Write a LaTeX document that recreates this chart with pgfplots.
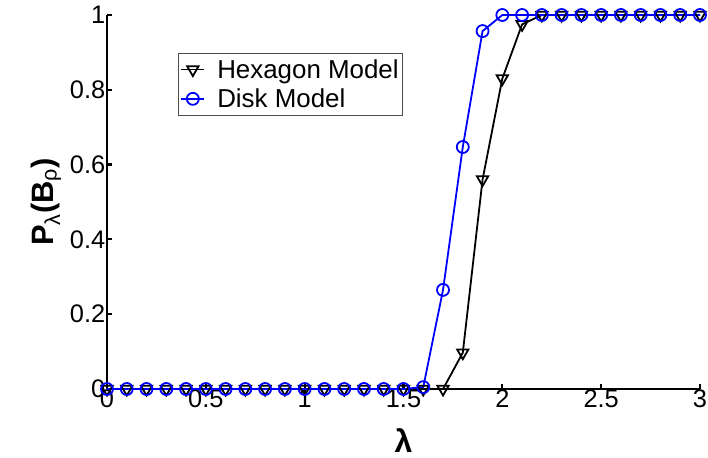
\documentclass[border=0pt]{standalone}
\usepackage{fontspec}
\setmainfont{Liberation Sans}
\usepackage{pgfplots}
\pgfplotsset{compat=1.18}

% Percolation probability versus intensity for the two coverage models
\pgfplotstableread{
lam   hex    disk
0.0   0      0
0.1   0      0
0.2   0      0
0.3   0      0
0.4   0      0
0.5   0      0
0.6   0      0
0.7   0      0
0.8   0      0
0.9   0      0
1.0   0      0
1.1   0      0
1.2   0      0
1.3   0      0
1.4   0      0
1.5   0      0
1.6   0      0.005
1.7   0      0.265
1.8   0.097  0.647
1.9   0.56   0.957
2.0   0.83   1
2.1   0.975  1
2.2   1      1
2.3   1      1
2.4   1      1
2.5   1      1
2.6   1      1
2.7   1      1
2.8   1      1
2.9   1      1
3.0   1      1
}\probdata

\begin{document}
\begin{tikzpicture}
\path[use as bounding box] (-107bp,-69bp) rectangle (601bp,389bp);
\begin{axis}[
  scale only axis, width=593bp, height=374bp,
  at={(0,0)}, anchor=south west,
  xmin=0, xmax=3, ymin=0, ymax=1,
  axis x line=bottom, axis y line=left,
  axis line style={-, line width=2.6bp},
  tick align=inside, major tick length=5bp,
  tick style={line width=2.2bp, black},
  xtick={0,0.5,1,1.5,2,2.5,3},
  ytick={0,0.2,0.4,0.6,0.8,1},
  /pgf/number format/assume math mode=true,
  ticklabel style={font=\fontsize{25.5}{28}\selectfont},
  xticklabel style={inner sep=1bp},
  yticklabel style={inner sep=1.5bp},
  xlabel={\textbf{λ}},
  xlabel style={at={(axis description cs:0.5,-0.137)}, anchor=center,
    font=\fontsize{32}{34}\selectfont},
  ylabel={\textbf{P\textsubscript{\mdseries λ}(B\textsubscript{\mdseries ρ})}},
  ylabel style={at={(axis description cs:-0.103,0.5)}, anchor=center, rotate=0,
    font=\fontsize{31}{34}\selectfont},
  clip=false,
  legend style={at={(axis description cs:0.12,0.898)}, anchor=north west,
    draw=black!70, line width=0.6bp, fill=white,
    font=\fontsize{26}{28}\selectfont, inner xsep=2bp, inner ysep=4bp,
    row sep=5bp},
  legend cell align=left,
  legend image code/.code={%
    \draw[mark repeat=2, mark phase=2] plot coordinates {(0bp,0bp) (11.5bp,0bp) (23bp,0bp)};},
]
\addplot[black, line width=1.8bp, mark=triangle, mark size=6.5bp,
  mark options={rotate=180, line width=1.8bp, solid}] table[x=lam, y=hex] {\probdata};
\addlegendentry{\hspace*{10bp}Hexagon Model}
\addplot[blue, line width=1.8bp, mark=o, mark size=6bp,
  mark options={line width=1.8bp, solid}] table[x=lam, y=disk] {\probdata};
\addlegendentry{\hspace*{10bp}Disk Model}
\end{axis}
\end{tikzpicture}
\end{document}
